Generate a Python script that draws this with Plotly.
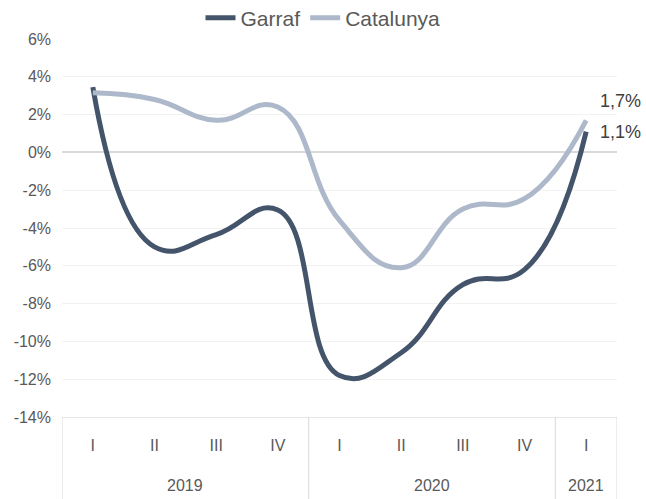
import plotly.graph_objects as go

years = ["2019", "2019", "2019", "2019", "2020", "2020", "2020", "2020", "2021"]
quarters = ["I", "II", "III", "IV", "I", "II", "III", "IV", "I"]
garraf = [3.45, -5.0, -4.35, -3.05, -11.8, -10.6, -7.0, -6.2, 1.1]
catalunya = [3.15, 2.8, 1.7, 2.4, -3.6, -6.1, -3.0, -2.45, 1.7]
tick_vals = [6, 4, 2, 0, -2, -4, -6, -8, -10, -12, -14]
tick_text = ["6%", "4%", "2%", "0%", "-2%", "-4%", "-6%", "-8%", "-10%", "-12%", "-14%"]

pos = list(range(len(quarters)))

def fmt(v):
    return f"{v:.1f}%".replace(".", ",")

fig = go.Figure()
fig.add_trace(go.Scatter(
    x=pos, y=garraf, name="Garraf", mode="lines",
    line=dict(color="#44546A", width=5, shape="spline", smoothing=1.3),
))
fig.add_trace(go.Scatter(
    x=pos, y=catalunya, name="Catalunya", mode="lines",
    line=dict(color="#ADB9CA", width=5, shape="spline", smoothing=1.3),
))

# end-point data labels
fig.add_annotation(x=pos[-1], y=garraf[-1], xref="x", yref="y", text=fmt(garraf[-1]),
                   showarrow=False, xanchor="left", yanchor="middle", xshift=12,
                   font=dict(size=18, color="#404040"))
fig.add_annotation(x=pos[-1], y=catalunya[-1], xref="x", yref="y", text=fmt(catalunya[-1]),
                   showarrow=False, xanchor="left", yanchor="middle", xshift=12, yshift=19,
                   font=dict(size=18, color="#404040"))

# year groups: centered labels and divider lines
groups = []
for i, y in enumerate(years):
    if not groups or groups[-1][0] != y:
        groups.append([y, i, i])
    else:
        groups[-1][2] = i

bottom = -82 / 378
for name, a, b in groups:
    fig.add_annotation(x=(a + b) / 2, y=-0.1825, xref="x", yref="paper",
                       text=name, showarrow=False, yanchor="middle",
                       font=dict(size=16, color="#595959"))
    fig.add_shape(type="line", xref="x", yref="paper", x0=a - 0.5, x1=a - 0.5,
                  y0=0, y1=bottom, line=dict(color="#D9D9D9", width=1))
fig.add_shape(type="line", xref="x", yref="paper",
              x0=groups[-1][2] + 0.5, x1=groups[-1][2] + 0.5,
              y0=0, y1=bottom, line=dict(color="#D9D9D9", width=1))

fig.update_layout(
    width=646, height=499,
    margin=dict(l=62, r=29, t=39, b=82, autoexpand=False),
    paper_bgcolor="white", plot_bgcolor="white",
    font=dict(family="Liberation Sans, Arial, sans-serif", size=16, color="#595959"),
    legend=dict(orientation="h", x=0.5, xref="container", xanchor="center",
                y=1 - 18 / 499, yref="container", yanchor="middle",
                font=dict(size=21, color="#595959"), traceorder="normal"),
    showlegend=True,
)
fig.update_yaxes(
    range=[-14, 6], tickvals=tick_vals, ticktext=tick_text,
    showgrid=True, gridcolor="#F2F2F2", gridwidth=1,
    zeroline=True, zerolinecolor="#D9D9D9", zerolinewidth=1.5,
    showline=False, ticks="", ticklabelstandoff=10,
    tickfont=dict(size=16, color="#595959"),
)
fig.update_xaxes(
    range=[-0.5, len(quarters) - 0.5], tickvals=pos, ticktext=quarters,
    showgrid=False, showline=True, linecolor="#E6E6E6", linewidth=1,
    zeroline=False, ticks="", ticklabelstandoff=14,
    tickfont=dict(size=16, color="#595959"),
)
fig.write_html(
    "out.html",
    config={"displayModeBar": False},
    post_script="document.body.style.margin='0';document.body.style.padding='0';",
)
